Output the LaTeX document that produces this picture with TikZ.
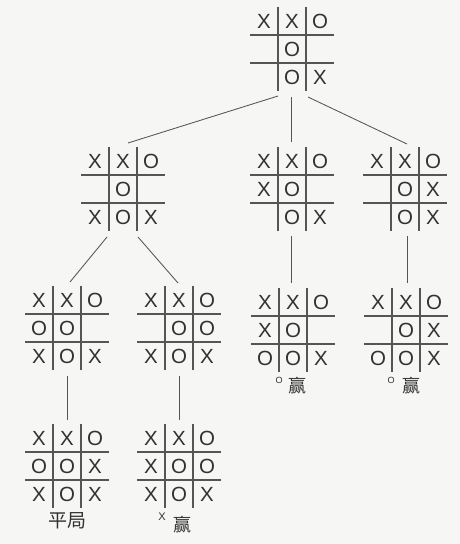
\documentclass[tikz,border=0pt]{standalone}
\usepackage{fontspec}
\setmainfont{Liberation Sans}
\newfontfamily\cjk{Noto Sans CJK SC}
\usetikzlibrary{calc}
\definecolor{paper}{RGB}{246,246,244}
\definecolor{ink}{RGB}{50,50,50}
\definecolor{rule}{RGB}{85,85,85}
\tikzset{
  boardbox/.style={minimum width=84pt,minimum height=84pt,inner sep=0pt,outer sep=0pt},
  gridline/.style={draw=rule,line width=1.05pt},
  cellmark/.style={inner sep=0pt,text=ink,font=\fontsize{20.5}{20.5}\selectfont},
  edge/.style={draw=rule,line width=0.85pt},
  cjklabel/.style={inner sep=0pt,text=ink,font=\cjk\fontsize{18}{18}\selectfont},
  smallmark/.style={inner sep=0pt,text=ink,font=\fontsize{9}{9}\selectfont},
}
\newcommand\tttboard[3]{%
  \node[boardbox] (#1) at (#2) {};
  \draw[gridline] ($(#1.north west)+(0,-28)$) -- ($(#1.north east)+(0,-28)$);
  \draw[gridline] ($(#1.north west)+(0,-56)$) -- ($(#1.north east)+(0,-56)$);
  \draw[gridline] ($(#1.north west)+(28,0)$) -- ($(#1.south west)+(28,0)$);
  \draw[gridline] ($(#1.north west)+(56,0)$) -- ($(#1.south west)+(56,0)$);
  \foreach \s/\c/\r in {#3}{
    \node[cellmark] (#1-\c\r) at ($(#1.north west)+({14+28*\c},{-14-28*\r})$) {\s};
  }%
}
\begin{document}
\begin{tikzpicture}[x=1pt,y=1pt]
\fill[paper] (0,0) rectangle (460,-544);
\useasboundingbox (0,0) rectangle (460,-544);

\tttboard{b0}{292,-49}{X/0/0,X/1/0,O/2/0,O/1/1,O/1/2,X/2/2}
\tttboard{b1}{123,-189}{X/0/0,X/1/0,O/2/0,O/1/1,X/0/2,O/1/2,X/2/2}
\tttboard{b2}{292,-189}{X/0/0,X/1/0,O/2/0,X/0/1,O/1/1,O/1/2,X/2/2}
\tttboard{b3}{405,-189}{X/0/0,X/1/0,O/2/0,O/1/1,X/2/1,O/1/2,X/2/2}
\tttboard{b11}{67,-328}{X/0/0,X/1/0,O/2/0,O/0/1,O/1/1,X/0/2,O/1/2,X/2/2}
\tttboard{b12}{179,-328}{X/0/0,X/1/0,O/2/0,O/1/1,O/2/1,X/0/2,O/1/2,X/2/2}
\tttboard{b21}{293,-330}{X/0/0,X/1/0,O/2/0,X/0/1,O/1/1,O/0/2,O/1/2,X/2/2}
\tttboard{b31}{406,-330}{X/0/0,X/1/0,O/2/0,O/1/1,X/2/1,O/0/2,O/1/2,X/2/2}
\tttboard{b111}{67,-466}{X/0/0,X/1/0,O/2/0,O/0/1,O/1/1,X/2/1,X/0/2,O/1/2,X/2/2}
\tttboard{b121}{179,-466}{X/0/0,X/1/0,O/2/0,X/0/1,O/1/1,O/2/1,X/0/2,O/1/2,X/2/2}

\draw[edge] ($(b0.south)+(-14,-5)$) -- ($(b1.north)+(5,4)$);
\draw[edge] ($(b0.south)+(-1,-6)$) -- ($(b2.north)+(-1,5)$);
\draw[edge] ($(b0.south)+(16,-6)$) -- ($(b3.north)+(2,3)$);
\draw[edge] ($(b1.south)+(-16,-6)$) -- ($(b11.north)+(3,4)$);
\draw[edge] ($(b1.south)+(15,-6)$) -- ($(b12.north)+(-1,3)$);
\draw[edge] ($(b2.south)+(-1,-5)$) -- ($(b21.north)+(-2,5)$);
\draw[edge] ($(b3.south)+(2,-5)$) -- ($(b31.north)+(1,5)$);
\draw[edge] ($(b11.south)+(0,-6)$) -- ($(b111.north)+(0,4)$);
\draw[edge] ($(b12.south)+(0,-6)$) -- ($(b121.north)+(0,4)$);

\node[smallmark] (w21o) at (279,-380) {O};
\node[cjklabel] (w21) at (297,-386) {赢};
\node[smallmark] (w31o) at (391,-380) {O};
\node[cjklabel] (w31) at (411,-386) {赢};
\node[cjklabel,font=\cjk\fontsize{19}{19}\selectfont] (draw111) at (67,-521) {平局};
\node[smallmark,font=\fontsize{11}{11}\selectfont] (w121x) at (162,-517) {X};
\node[cjklabel] (w121) at (182,-525) {赢};
\end{tikzpicture}
\end{document}
